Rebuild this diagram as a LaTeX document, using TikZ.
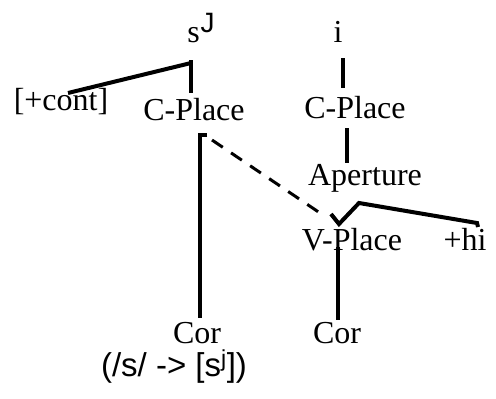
\documentclass[tikz,border=0pt]{standalone}
\usepackage{fontspec}
\setmainfont{Liberation Serif}
\newfontfamily\glossfont{Liberation Sans}
\usetikzlibrary{calc}
\tikzset{
  lbl/.style={anchor=base, inner sep=0pt, font=\fontsize{32}{36}\selectfont},
  gloss/.style={anchor=base, inner sep=0pt, font=\glossfont\fontsize{33}{38}\selectfont},
  assoc/.style={line width=4pt, line cap=butt, line join=miter},
  delink/.style={line width=3pt, dash pattern=on 13pt off 10pt}
}
\begin{document}
\begin{tikzpicture}[x=1pt, y=-1pt]
\useasboundingbox (0,0) rectangle (496,399);
% nodes
\node[lbl] (sJ) at (201,42) {s\kern1pt\raisebox{10pt}{\glossfont\fontsize{28}{28}\selectfont J}};
\node[lbl] (i) at (338,42) {i};
\node[lbl] (cont) at (61,110) {[+cont]};
\node[lbl] (cpL) at (194,120) {C-Place};
\node[lbl] (cpR) at (355,118) {C-Place};
\node[lbl] (ap) at (365,185) {Aperture};
\node[lbl] (vp) at (352,250) {V-Place};
\node[lbl] (hi) at (465,250) {+hi};
\node[lbl] (corL) at (197,343) {Cor};
\node[lbl] (corR) at (337,343) {Cor};
\node[gloss] (gl) at (174,376) {(/s/ -> [s\textsuperscript{j}])};
% connectors
\draw[assoc] ($(sJ.base)+(-10,18)$) -- ($(cpL.base)+(-3,-27)$);
\draw[assoc] ($(sJ.base)+(-10,21)$) -- ($(cont.base)+(7,-17)$);
\draw[assoc] ($(i.base)+(5,16)$) -- ($(cpR.base)+(-12,-30)$);
\draw[assoc] ($(cpR.base)+(-8,10)$) -- ($(ap.base)+(-18,-22)$);
\draw[assoc] ($(cpL.base)+(13,15)$) -- ($(cpL.base)+(6,15)$) -- ($(corL.base)+(3,-25)$);
\draw[delink] ($(cpL.base)+(18,20)$) -- ($(vp.base)+(-32,-37)$);
\draw[assoc] ($(vp.base)+(-21,-36)$) -- ($(vp.base)+(-13,-26)$) -- ($(vp.base)+(7,-47)$) -- ($(hi.base)+(12,-27)$) -- ($(hi.base)+(13,-23)$);
\draw[assoc] ($(vp.base)+(-14,-3)$) -- ($(corR.base)+(1,-23)$);
\end{tikzpicture}
\end{document}
